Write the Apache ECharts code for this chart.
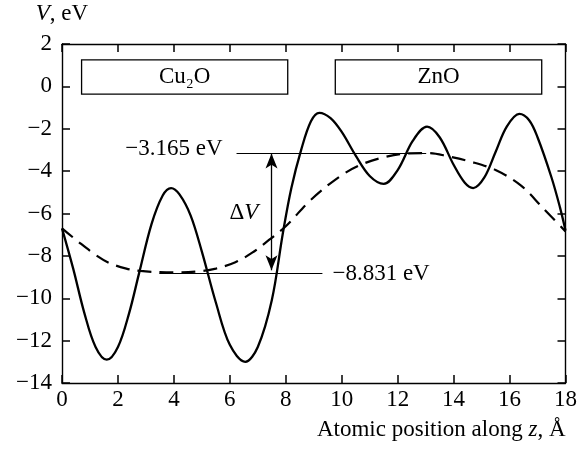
<!DOCTYPE html>
<html>
<head>
<meta charset="utf-8">
<script src="https://cdn.jsdelivr.net/npm/echarts@6/dist/echarts.min.js"></script>
<style>
  html, body { margin: 0; padding: 0; background: #fff; }
  #chart { width: 580px; height: 450px; }
</style>
</head>
<body>
<div id="chart"></div>
<script>
// potential profile, solid = planar average, dashed = macroscopic average
var zSolid = [0, 0.4, 0.8, 1.2, 1.6, 2.0, 2.4, 2.75, 3.2, 3.6, 3.9, 4.2, 4.6, 5.0, 5.5, 6.0, 6.55,
              7.0, 7.5, 7.9, 8.2, 8.55, 8.9, 9.2, 9.6, 10.0, 10.5, 11.0, 11.5, 12.0, 12.55, 13.05,
              13.5, 14.0, 14.4, 14.7, 15.1, 15.5, 15.9, 16.35, 16.7, 17.0, 17.5, 17.8, 18.0];
var vSolid = [-6.7, -8.6, -10.7, -12.3, -12.9, -12.3, -10.7, -8.85, -6.5, -5.15, -4.8, -5.1, -6.1, -7.8, -10.2, -12.2, -13.0,
              -12.3, -10.1, -6.9, -4.8, -3.0, -1.65, -1.25, -1.5, -2.15, -3.27, -4.23, -4.6, -3.95, -2.55, -1.9,
              -2.4, -3.7, -4.55, -4.8, -4.3, -3.1, -1.9, -1.3, -1.6, -2.4, -4.3, -5.7, -6.8];

var zAvg = [0, 0.6, 1.2, 1.7, 2.3, 2.8, 3.5, 4.2, 4.9, 5.5, 6.2, 6.8, 7.4, 8.0, 8.9, 9.9, 10.6,
            11.4, 12.4, 13.1, 13.8, 14.6, 15.5, 16.4, 17.2, 18.0];
var vAvg = [-6.7, -7.35, -7.95, -8.34, -8.6, -8.71, -8.77, -8.78, -8.73, -8.6, -8.3, -7.85, -7.25, -6.6, -5.35, -4.28, -3.75,
            -3.38, -3.16, -3.15, -3.3, -3.55, -3.95, -4.67, -5.75, -6.85];

var xTicks = [0, 2, 4, 6, 8, 10, 12, 14, 16, 18];
var yTicks = [-14, -12, -10, -8, -6, -4, -2, 0, 2];

// layer boxes and the two average levels
var layers = ['Cu₂O', 'ZnO'];
var layerFrom = [0.7, 9.77];
var layerTo = [8.07, 17.15];
var levels = [-3.165, -8.831];
var levelText = ['−3.165 eV', '−8.831 eV'];

function zip(a, b) {
  return a.map(function (v, i) { return [v, b[i]]; });
}
function minus(v) {
  return String(v).replace('-', '\u2212');
}

var font = '"Liberation Serif", "DejaVu Serif", serif';
var fs = 23;

var chart = echarts.init(document.getElementById('chart'));

function frameAxis(extra) {
  return Object.assign({
    type: 'value',
    axisLine: { show: true, onZero: false, lineStyle: { color: '#000', width: 1.4 } },
    axisTick: { show: true, inside: true, length: 8, lineStyle: { color: '#000', width: 1.5 } },
    splitLine: { show: false }
  }, extra);
}

var option = {
  backgroundColor: '#fff',
  animation: false,
  textStyle: { fontFamily: font, color: '#000' },
  grid: { left: 62, right: 14, top: 44, bottom: 67 },
  xAxis: [
    frameAxis({
      min: xTicks[0], max: xTicks[xTicks.length - 1], interval: 2,
      position: 'bottom',
      axisLabel: { margin: 5, fontSize: fs, color: '#000', fontFamily: font },
      name: 'Atomic position along {i|z}, Å',
      nameLocation: 'end',
      nameGap: 0,
      nameTextStyle: {
        fontSize: fs, color: '#000', fontFamily: font,
        align: 'right', verticalAlign: 'top', padding: [35, 0, 0, 0],
        rich: { i: { fontStyle: 'italic', fontSize: fs, fontFamily: font } }
      }
    }),
    frameAxis({
      min: xTicks[0], max: xTicks[xTicks.length - 1], interval: 2,
      position: 'top',
      axisLabel: { show: false }
    })
  ],
  yAxis: [
    frameAxis({
      min: yTicks[0], max: yTicks[yTicks.length - 1], interval: 2,
      position: 'left',
      axisLabel: { margin: 10, fontSize: fs, color: '#000', fontFamily: font, formatter: minus },
      name: '{i|V}, eV',
      nameLocation: 'end',
      nameGap: 30,
      nameTextStyle: {
        fontSize: fs, color: '#000', fontFamily: font,
        align: 'center', verticalAlign: 'middle',
        rich: { i: { fontStyle: 'italic', fontSize: fs, fontFamily: font } }
      }
    }),
    frameAxis({
      min: yTicks[0], max: yTicks[yTicks.length - 1], interval: 2,
      position: 'right',
      axisLabel: { show: false }
    })
  ],
  series: [
    {
      name: 'planar',
      type: 'line',
      data: zip(zSolid, vSolid),
      smooth: 0.35,
      showSymbol: false,
      lineStyle: { color: '#000', width: 2.3 },
      markArea: {
        silent: true,
        itemStyle: { color: '#fff', borderColor: '#000', borderWidth: 1.3 },
        label: { show: true, position: 'inside', color: '#000', fontSize: fs, fontFamily: font },
        data: layers.map(function (name, i) {
          return [{ name: name, coord: [layerFrom[i], 1.25] }, { coord: [layerTo[i], -0.37] }];
        })
      },
      markLine: {
        silent: true,
        symbol: 'none',
        lineStyle: { color: '#000', width: 1, type: 'solid' },
        label: { color: '#000', fontSize: fs, fontFamily: font },
        data: [
          [
            { coord: [6.24, levels[0]], label: { show: true, position: 'start', distance: 14, formatter: levelText[0], offset: [0, -4] } },
            { coord: [13.02, levels[0]] }
          ],
          [
            { coord: [3.48, levels[1]], label: { show: true, position: 'end', distance: 10, formatter: levelText[1] } },
            { coord: [9.31, levels[1]] }
          ],
          [
            { coord: [7.49, levels[0]], symbol: 'arrow', symbolSize: [9, 15], lineStyle: { width: 1.3 }, label: { show: false } },
            { coord: [7.49, levels[1] + 0.15], symbol: 'arrow', symbolSize: [9, 15] }
          ]
        ]
      },
      markPoint: {
        silent: true,
        symbol: 'circle',
        symbolSize: 0,
        label: {
          show: true, position: 'inside', color: '#000', fontSize: fs, fontFamily: font,
          formatter: 'Δ{i|V}',
          rich: { i: { fontStyle: 'italic', fontSize: fs, fontFamily: font } }
        },
        data: [{ coord: [6.5, -5.97] }]
      }
    },
    {
      name: 'average',
      type: 'line',
      data: zip(zAvg, vAvg),
      smooth: 0.35,
      showSymbol: false,
      lineStyle: { color: '#000', width: 2.2, type: [14, 8] }
    }
  ]
};

chart.setOption(option);
</script>
</body>
</html>
